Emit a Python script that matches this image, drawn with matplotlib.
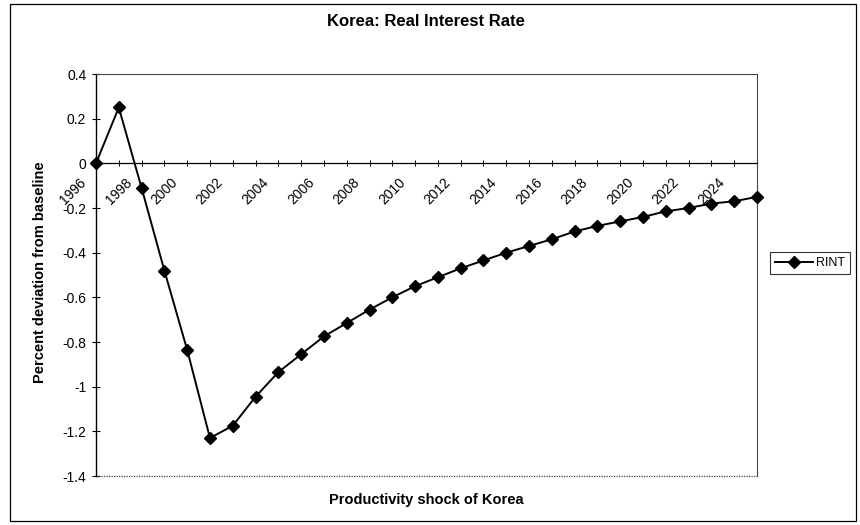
import numpy as np
import matplotlib
matplotlib.use("Agg")
import matplotlib.pyplot as plt
from matplotlib.patches import Rectangle
from matplotlib.ticker import FuncFormatter

plt.rcParams['font.family'] = ['Liberation Sans', 'DejaVu Sans']

# RINT, one point per period (30 periods)
rint = [0, 0.25, -0.11, -0.48, -0.835, -1.23, -1.175, -1.045, -0.935, -0.855,
        -0.775, -0.715, -0.655, -0.60, -0.55, -0.51, -0.47, -0.435, -0.40, -0.37,
        -0.34, -0.305, -0.28, -0.26, -0.24, -0.215, -0.20, -0.18, -0.17, -0.15]
tickLabels = ["1996", "1998", "2000", "2002", "2004", "2006", "2008", "2010",
              "2012", "2014", "2016", "2018", "2020", "2022", "2024"]
# category slot where each label sits (the first one falls left of the axis)
labelSlots = [-1, 1, 3, 5, 7, 9, 11, 13, 15, 17, 19, 21, 23, 25, 27]
yTicks = [0.4, 0.2, 0, -0.2, -0.4, -0.6, -0.8, -1, -1.2, -1.4]

slots = np.arange(len(rint))

figure = plt.figure(figsize = (8.6, 5.25), dpi = 100)
plot = figure.add_axes([96 / 860, 1 - 476 / 525, (757 - 96) / 860, (476 - 74) / 525])

line, = plot.plot(slots, rint, color = "black", linewidth = 1.4,
                  marker = "D", markersize = 6, label = "RINT", clip_on = False, zorder = 5)

plot.set_xlim(0, len(rint) - 1)
plot.set_ylim(-1.4, 0.4)
plot.set_yticks(yTicks)
plot.yaxis.set_major_formatter(FuncFormatter(lambda v, p: "%g" % round(v, 1)))
plot.tick_params(axis = "y", direction = "inout", length = 6, width = 0.8,
                 labelsize = 10, pad = 4)

# x axis crosses at zero
plot.spines["bottom"].set_position(("data", 0))
plot.spines["bottom"].set_linewidth(0.9)
plot.spines["left"].set_linewidth(1.0)
plot.set_xticks(slots)
plot.set_xticklabels([])
plot.tick_params(axis = "x", direction = "inout", length = 5, width = 0.7)

# dotted plot area border
for side in ["top", "right"]:
    plot.spines[side].set_linestyle((0, (1, 1)))
    plot.spines[side].set_linewidth(0.8)
    plot.spines[side].set_color("#444444")
plot.axhline(-1.4, color = "#444444", linewidth = 0.9, linestyle = (0, (1, 1)), clip_on = False)

for slot, label in zip(labelSlots, tickLabels):
    plot.annotate(label, xy = (slot, 0), xytext = (0, -20), textcoords = "offset points",
                  rotation = 45, ha = "center", va = "center", fontsize = 10,
                  annotation_clip = False)

figure.text(426 / 860, 1 - 22 / 525, "Korea: Real Interest Rate", ha = "center", va = "center",
            fontsize = 12, fontweight = "bold")
figure.text(426 / 860, 1 - 500 / 525, "Productivity shock of Korea", ha = "center", va = "center",
            fontsize = 10.5, fontweight = "bold")
figure.text(40 / 860, 1 - 272 / 525, "Percent deviation from baseline", ha = "center", va = "center",
            rotation = 90, fontsize = 10.5, fontweight = "bold")

legend = figure.legend(handles = [line], loc = "center left", bbox_to_anchor = (770 / 860, 1 - 263 / 525),
                       fontsize = 9, frameon = True, fancybox = False, borderpad = 0.4,
                       handlelength = 3.0, handletextpad = 0.3, borderaxespad = 0)
legend.get_frame().set_edgecolor("black")
legend.get_frame().set_linewidth(0.8)

figure.patches.append(Rectangle((10 / 860, 1 - 521 / 525), 846 / 860, 517 / 525,
                                transform = figure.transFigure, fill = False,
                                edgecolor = "black", linewidth = 0.9))

plt.savefig("out.png", dpi = 100)
